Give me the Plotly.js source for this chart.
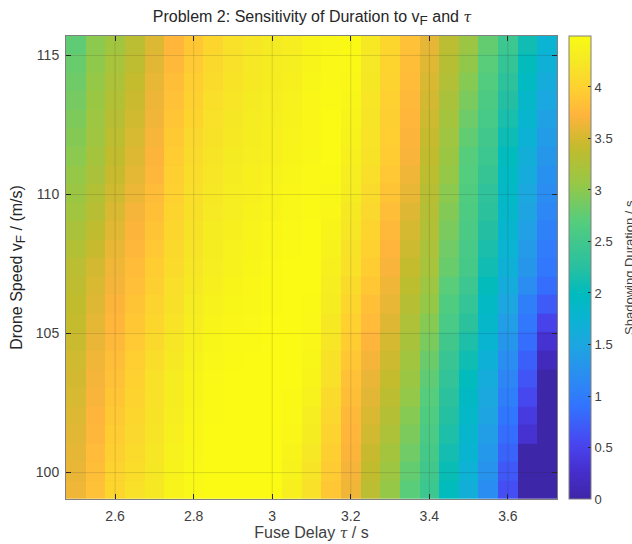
<!DOCTYPE html>
<html>
<head>
<meta charset="utf-8">
<script src="https://cdn.plot.ly/plotly-3.0.1.min.js"></script>
<style>html,body{margin:0;padding:0;background:#fff;overflow:hidden}#g{width:632px;height:544px}</style>
</head>
<body>
<div id="g"></div>
<script>
// Fuse delay (s), one value per column
var tau = [2.5,2.55,2.6,2.65,2.7,2.75,2.8,2.85,2.9,2.95,3,3.05,3.1,3.15,3.2,3.25,3.3,3.35,3.4,3.45,3.5,3.55,3.6,3.65,3.7];
// Drone speed (m/s), one value per row, bottom to top
var speed = [99.38,100.05,100.72,101.38,102.05,102.72,103.38,104.05,104.72,105.38,106.05,106.72,107.38,108.05,108.72,109.38,110.05,110.72,111.38,112.05,112.72,113.38,114.05,114.72,115.38];
// Shadowing duration (s), one list per fuse delay, bottom to top
var c00 = [3.65,3.62,3.6,3.58,3.55,3.52,3.5,3.48,3.45,3.42,3.4,3.38,3.35,3.28,3.22,3.15,3.1,3.05,3.0,2.96,2.92,2.88,2.84,2.8,2.75];
var c01 = [3.85,3.82,3.79,3.76,3.73,3.7,3.68,3.65,3.62,3.59,3.56,3.53,3.5,3.44,3.39,3.33,3.28,3.22,3.17,3.14,3.11,3.08,3.05,3.02,3.0];
var c02 = [4.05,4.02,3.98,3.95,3.92,3.88,3.85,3.82,3.78,3.75,3.72,3.68,3.65,3.61,3.57,3.53,3.48,3.44,3.4,3.36,3.32,3.28,3.24,3.2,3.15];
var c03 = [4.15,4.12,4.1,4.07,4.05,4.02,4.0,3.97,3.93,3.9,3.87,3.83,3.8,3.76,3.72,3.68,3.63,3.59,3.55,3.52,3.48,3.45,3.42,3.38,3.35];
var c04 = [4.25,4.23,4.22,4.2,4.18,4.17,4.15,4.12,4.08,4.05,4.02,3.98,3.95,3.91,3.87,3.84,3.8,3.76,3.72,3.69,3.66,3.64,3.61,3.58,3.55];
var c05 = [4.4,4.38,4.36,4.34,4.32,4.3,4.28,4.25,4.22,4.19,4.16,4.13,4.1,4.08,4.05,4.03,4.0,3.98,3.95,3.92,3.88,3.85,3.82,3.78,3.75];
var c06 = [4.47,4.46,4.45,4.44,4.42,4.41,4.4,4.37,4.34,4.31,4.28,4.25,4.22,4.2,4.18,4.16,4.14,4.12,4.1,4.07,4.03,4.0,3.97,3.93,3.9];
var c07 = [4.5,4.5,4.49,4.49,4.48,4.48,4.47,4.45,4.42,4.4,4.37,4.35,4.32,4.3,4.28,4.26,4.24,4.22,4.2,4.18,4.15,4.13,4.1,4.08,4.05];
var c08 = [4.5,4.5,4.5,4.5,4.5,4.5,4.5,4.48,4.46,4.44,4.42,4.4,4.38,4.36,4.34,4.32,4.31,4.29,4.27,4.25,4.23,4.21,4.19,4.17,4.15];
var c09 = [4.5,4.5,4.5,4.5,4.5,4.5,4.5,4.49,4.48,4.46,4.45,4.44,4.42,4.4,4.39,4.37,4.35,4.34,4.32,4.3,4.29,4.27,4.25,4.24,4.22];
var c10 = [4.5,4.5,4.5,4.5,4.5,4.5,4.5,4.5,4.49,4.49,4.48,4.48,4.47,4.45,4.43,4.41,4.39,4.37,4.35,4.34,4.33,4.31,4.3,4.28,4.27];
var c11 = [4.35,4.38,4.41,4.44,4.46,4.48,4.5,4.5,4.5,4.5,4.5,4.5,4.5,4.48,4.47,4.45,4.43,4.42,4.4,4.39,4.37,4.36,4.35,4.33,4.32];
var c12 = [4.15,4.2,4.24,4.28,4.32,4.36,4.4,4.42,4.44,4.46,4.48,4.49,4.5,4.5,4.49,4.48,4.47,4.46,4.45,4.44,4.44,4.43,4.42,4.41,4.4];
var c13 = [3.9,3.94,3.98,4.02,4.06,4.1,4.15,4.18,4.22,4.25,4.28,4.32,4.35,4.38,4.4,4.43,4.45,4.48,4.5,4.5,4.49,4.48,4.47,4.46,4.45];
var c14 = [3.65,3.68,3.72,3.75,3.78,3.82,3.85,3.9,3.95,4.0,4.05,4.1,4.15,4.18,4.22,4.25,4.28,4.32,4.35,4.37,4.39,4.42,4.44,4.46,4.48];
var c15 = [3.35,3.4,3.44,3.49,3.53,3.58,3.62,3.68,3.73,3.79,3.84,3.9,3.95,3.99,4.03,4.07,4.1,4.14,4.18,4.19,4.2,4.21,4.23,4.24,4.25];
var c16 = [3.05,3.11,3.17,3.24,3.3,3.36,3.42,3.47,3.51,3.56,3.61,3.65,3.7,3.74,3.78,3.82,3.87,3.91,3.95,3.97,3.98,4.0,4.02,4.03,4.05];
var c17 = [2.72,2.78,2.85,2.91,2.97,3.04,3.1,3.15,3.21,3.26,3.31,3.37,3.42,3.47,3.51,3.56,3.61,3.65,3.7,3.72,3.75,3.78,3.8,3.82,3.85];
var c18 = [2.45,2.5,2.55,2.6,2.65,2.7,2.75,2.82,2.9,2.97,3.05,3.12,3.2,3.23,3.27,3.3,3.33,3.37,3.4,3.43,3.47,3.5,3.53,3.57,3.6];
var c19 = [2.0,2.06,2.12,2.18,2.23,2.29,2.35,2.42,2.5,2.58,2.65,2.72,2.8,2.85,2.9,2.95,3.0,3.05,3.1,3.14,3.18,3.22,3.27,3.31,3.35];
var c20 = [1.65,1.71,1.77,1.82,1.88,1.94,2.0,2.09,2.18,2.28,2.37,2.46,2.55,2.57,2.6,2.62,2.65,2.68,2.7,2.77,2.83,2.9,2.97,3.03,3.1];
var c21 = [1.2,1.27,1.33,1.4,1.47,1.53,1.6,1.68,1.77,1.85,1.93,2.02,2.1,2.16,2.22,2.28,2.33,2.39,2.45,2.5,2.56,2.61,2.67,2.72,2.78];
var c22 = [0.6,0.68,0.77,0.85,0.93,1.02,1.1,1.2,1.3,1.4,1.5,1.6,1.7,1.75,1.8,1.85,1.9,1.95,2.0,2.07,2.15,2.22,2.3,2.37,2.45];
var c23 = [0,0,0,0.3,0.4,0.55,0.65,0.75,0.85,0.95,1.05,1.18,1.3,1.36,1.42,1.48,1.54,1.6,1.65,1.72,1.8,1.87,1.95,2.02,2.1];
var c24 = [0,0,0,0,0,0,0,0.15,0.3,0.5,0.7,0.85,0.95,1.0,1.06,1.12,1.18,1.24,1.3,1.37,1.44,1.52,1.6,1.68,1.75];
var columns = [c00,c01,c02,c03,c04,c05,c06,c07,c08,c09,c10,c11,c12,c13,c14,c15,c16,c17,c18,c19,c20,c21,c22,c23,c24];
var xTicks = [2.6,2.8,3,3.2,3.4,3.6];
var xTickText = ["2.6","2.8","3","3.2","3.4","3.6"];
var yTicks = [100,105,110,115];
var yTickText = ["100","105","110","115"];
var barTicks = [0,0.5,1,1.5,2,2.5,3,3.5,4];
var barTickText = ["0","0.5","1","1.5","2","2.5","3","3.5","4"];

var z = speed.map(function(_, r){ return columns.map(function(c){ return c[r]; }); });
var parula = [
 [0,'rgb(62,38,168)'],[0.06,'rgb(70,46,205)'],[0.12,'rgb(72,70,240)'],[0.2,'rgb(50,115,255)'],
 [0.25,'rgb(45,135,245)'],[0.33,'rgb(30,165,225)'],[0.39,'rgb(10,180,210)'],[0.444,'rgb(0,187,190)'],
 [0.5,'rgb(40,192,160)'],[0.6,'rgb(85,205,125)'],[0.68,'rgb(150,200,70)'],[0.76,'rgb(195,187,45)'],
 [0.83,'rgb(255,180,60)'],[0.88,'rgb(255,205,50)'],[0.95,'rgb(245,235,35)'],[1,'rgb(250,250,20)']
];
var FONT = '"Liberation Sans", Arial, sans-serif';
var TAU = '<span style="font-family:\'DejaVu Serif\';font-style:italic;font-size:14px">τ</span>';
var SUBF = '<sub><span style="font-size:13.5px">F</span></sub>';
var gridColor = 'rgba(38,38,38,0.15)';
var shapes = [];
xTicks.forEach(function(v){ shapes.push({type:'line',layer:'above',xref:'x',yref:'paper',x0:v,x1:v,y0:0,y1:1,line:{color:gridColor,width:1}}); });
yTicks.forEach(function(v){ shapes.push({type:'line',layer:'above',xref:'paper',yref:'y',x0:0,x1:1,y0:v,y1:v,line:{color:gridColor,width:1}}); });

var axisCommon = {
  ticks:'inside', ticklen:5, tickwidth:1, tickcolor:'#262626',
  showline:true, linecolor:'#808080', linewidth:1, mirror:'ticks',
  showgrid:false, zeroline:false, tickfont:{family:FONT,size:14,color:'#404040'}
};
var data = [{
  type:'heatmap', x:tau, y:speed, z:z, zmin:0, zmax:4.495, zsmooth:false,
  colorscale:parula, showscale:true,
  colorbar:{
    x:1.0254, xanchor:'left', xpad:0, ypad:0, y:0.5, yanchor:'middle', len:1, lenmode:'fraction',
    thickness:22, thicknessmode:'pixels', outlinecolor:'#808080', outlinewidth:1,
    tickmode:'array', tickvals:barTicks, ticktext:barTickText, ticks:'inside', ticklen:3, tickcolor:'#262626',
    tickfont:{family:FONT,size:13,color:'#404040'}
  }
}];
var layout = {
  width:632, height:544, paper_bgcolor:'#fff', plot_bgcolor:'#fff',
  margin:{l:66,r:74.5,t:36,b:45},
  font:{family:FONT,color:'#262626'},
  title:{text:'Problem 2: Sensitivity of Duration to v'+SUBF+' and '+TAU, font:{family:FONT,size:16,color:'#262626'},
         x:312/632, xanchor:'center', y:0.97, yanchor:'middle'},
  xaxis:Object.assign({},axisCommon,{range:[2.475,3.725],tickmode:'array',tickvals:xTicks,ticktext:xTickText,ticklabelstandoff:4,
         title:{text:'Fuse Delay '+TAU+' / s',font:{family:FONT,size:16,color:'#404040'},standoff:3}}),
  yaxis:Object.assign({},axisCommon,{range:[99.05,115.7],tickmode:'array',tickvals:yTicks,ticktext:yTickText,ticklabelstandoff:3,
         title:{text:'Drone Speed v'+SUBF+' / (m/s)',font:{family:FONT,size:16,color:'#262626'},standoff:9}}),
  shapes:shapes,
  annotations:[{text:'Shadowing Duration / s',textangle:-90,xref:'paper',yref:'paper',
     x:(630-66)/491.5,y:0.5,xanchor:'center',yanchor:'middle',showarrow:false,
     font:{family:FONT,size:13,color:'#404040'}}]
};
Plotly.newPlot('g',data,layout,{displayModeBar:false,staticPlot:true});
</script>
</body>
</html>
